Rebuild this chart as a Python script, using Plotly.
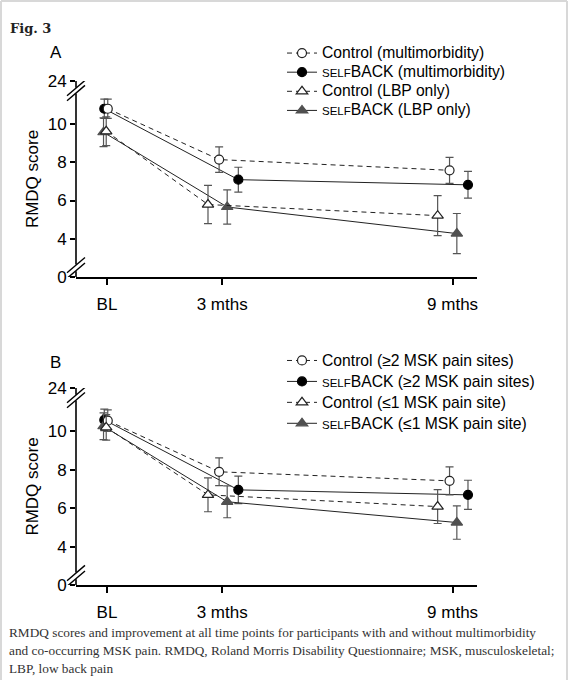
import plotly.graph_objects as go

# time points (months from baseline) and their tick labels
months = [0, 3, 9]
month_labels = ["BL", "3 mths", "9 mths"]

# broken y axis: 0 and 24 sit beyond the breaks
ytick_text = ["0", "4", "6", "8", "10", "24"]

# Panel A: multimorbidity vs LBP only  (mean RMDQ and error half-width)
a_names = ["Control (multimorbidity)", "SELFBACK (multimorbidity)",
           "Control (LBP only)", "SELFBACK (LBP only)"]
a_ctrl_multi = [10.8, 8.14, 7.58]
a_ctrl_multi_err = [0.5, 0.67, 0.68]
a_self_multi = [10.8, 7.09, 6.82]
a_self_multi_err = [0.5, 0.65, 0.70]
a_ctrl_lbp = [9.62, 5.79, 5.21]
a_ctrl_lbp_err = [0.75, 1.0, 1.05]
a_self_lbp = [9.57, 5.66, 4.27]
a_self_lbp_err = [0.75, 0.9, 1.05]

# Panel B: >=2 vs <=1 MSK pain sites
b_names = ["Control (\u22652 MSK pain sites)", "SELFBACK (\u22652 MSK pain sites)",
           "Control (\u22641 MSK pain site)", "SELFBACK (\u22641 MSK pain site)"]
b_ctrl_multi = [10.55, 7.89, 7.42]
b_ctrl_multi_err = [0.56, 0.72, 0.73]
b_self_multi = [10.59, 6.95, 6.69]
b_self_multi_err = [0.56, 0.72, 0.76]
b_ctrl_single = [10.2, 6.69, 6.08]
b_ctrl_single_err = [0.66, 0.88, 0.88]
b_self_single = [10.26, 6.33, 5.25]
b_self_single_err = [0.7, 0.83, 0.87]

caption_lines = [
    "RMDQ scores and improvement at all time points for participants with and without multimorbidity",
    "and co-occurring MSK pain. RMDQ, Roland Morris Disability Questionnaire; MSK, musculoskeletal;",
    "LBP, low back pain",
]

FONT = "Arial, Liberation Sans, sans-serif"

# figure geometry (pixels)
W, H = 582, 680
L, R, T, B = 76, 105, 81, 95
PW, PH = W - L - R, H - T - B


def px(x):
    return (x - L) / PW


def py(y):
    return (H - B - y) / PH


# horizontal dodge (months) per series: ctrl circle, self circle, ctrl tri, self tri
dodge = {
    "ctrl_c": [0.02, -0.08, -0.08],
    "self_c": [-0.07, 0.42, 0.40],
    "ctrl_t": [-0.02, -0.37, -0.39],
    "self_t": [-0.09, 0.13, 0.11],
}

styles = {
    "ctrl_c": dict(symbol="circle", size=9, color="white", line=dict(color="#222", width=1.2)),
    "self_c": dict(symbol="circle", size=9, color="black", line=dict(color="black", width=1.2)),
    "ctrl_t": dict(symbol="triangle-up", size=10, color="white", line=dict(color="#222", width=1.2)),
    "self_t": dict(symbol="triangle-up", size=10, color="#505050", line=dict(color="#505050", width=1.2)),
}
dashes = {"ctrl_c": "5px,4px", "ctrl_t": "5px,4px", "self_c": "solid", "self_t": "solid"}


def label(name):
    name = name.replace("SELFBACK", "<span style='font-size:11.5px'>SELF</span>BACK")
    return "<span style='font-size:15.7px'>" + name + "</span>"


fig = go.Figure()


def add_panel(xa, ya, legend, names, series):
    # filled series first so the open markers sit on top, as in the original
    order = ["self_c", "self_t", "ctrl_c", "ctrl_t"]
    rank = {"ctrl_c": 1, "self_c": 2, "ctrl_t": 3, "self_t": 4}
    for key in order:
        vals, errs = series[key]
        fig.add_trace(go.Scatter(
            x=[m + d for m, d in zip(months, dodge[key])], y=vals,
            xaxis=xa, yaxis=ya, legend=legend, legendrank=rank[key],
            name=label(names[rank[key] - 1]), mode="lines+markers",
            line=dict(color="#222", width=1, dash=dashes[key]),
            marker=styles[key],
            error_y=dict(type="data", array=errs, color="#555", thickness=1.2, width=4),
        ))


add_panel("x", "y", "legend", a_names, {
    "ctrl_c": (a_ctrl_multi, a_ctrl_multi_err),
    "self_c": (a_self_multi, a_self_multi_err),
    "ctrl_t": (a_ctrl_lbp, a_ctrl_lbp_err),
    "self_t": (a_self_lbp, a_self_lbp_err),
})
add_panel("x2", "y2", "legend2", b_names, {
    "ctrl_c": (b_ctrl_multi, b_ctrl_multi_err),
    "self_c": (b_self_multi, b_self_multi_err),
    "ctrl_t": (b_ctrl_single, b_ctrl_single_err),
    "self_t": (b_self_single, b_self_single_err),
})

ytick_pos = [2, 4, 6, 8, 10, 12.25]

xaxis_style = dict(range=[-0.807, 9.635], tickvals=months, ticktext=month_labels,
                   showline=True, linecolor="black", linewidth=1.6, ticks="outside",
                   ticklen=6, tickwidth=1.5, tickcolor="black", showgrid=False,
                   zeroline=False, ticklabelstandoff=5,
                   tickfont=dict(family=FONT, size=17, color="black"))
yaxis_style = dict(range=[2, 12.25], tickvals=ytick_pos, ticktext=ytick_text,
                   showline=False, ticks="outside", ticklen=5, tickwidth=1.5,
                   tickcolor="black", showgrid=False, zeroline=False,
                   tickfont=dict(family=FONT, size=17, color="black"),
                   title=dict(text="RMDQ score", font=dict(family=FONT, size=17, color="black"),
                              standoff=4))

# axis lines with break marks
shapes = []
for xr, yr in [("x domain", "y"), ("x2 domain", "y2")]:
    for y0, y1 in [(2, 2.3), (2.65, 11.6), (11.9, 12.25)]:
        shapes.append(dict(type="line", xref=xr, yref=yr, x0=0, x1=0, y0=y0, y1=y1,
                           line=dict(color="black", width=1.6)))
    for c in [2.33, 2.62, 11.62, 11.88]:
        shapes.append(dict(type="line", xref=xr, yref=yr, x0=-0.0224, x1=0.0224,
                           y0=c - 0.4, y1=c + 0.4, line=dict(color="black", width=1.4)))

# light page frame
frame = "#d8d8d8"
shapes += [
    dict(type="line", xref="paper", yref="paper", x0=px(1), x1=px(567), y0=py(1), y1=py(1),
         line=dict(color=frame, width=2)),
    dict(type="line", xref="paper", yref="paper", x0=px(1), x1=px(1), y0=py(1), y1=py(680),
         line=dict(color=frame, width=2)),
    dict(type="line", xref="paper", yref="paper", x0=px(567), x1=px(567), y0=py(1), y1=py(680),
         line=dict(color=frame, width=2)),
]

annotations = [
    dict(text="<b>Fig. 3</b>", x=px(8), y=py(29), xanchor="left", yanchor="middle",
         font=dict(family="DejaVu Serif, serif", size=13, color="#222")),
    dict(text="A", x=px(55.5), y=py(52.5), xanchor="center", yanchor="middle",
         font=dict(family=FONT, size=17, color="black")),
    dict(text="B", x=px(55), y=py(362.5), xanchor="center", yanchor="middle",
         font=dict(family=FONT, size=17, color="black")),
]
for line, yc in zip(caption_lines, [632, 650, 668]):
    annotations.append(dict(text=line, x=px(7), y=py(yc), xanchor="left", yanchor="middle",
                            font=dict(family="Liberation Serif, serif", size=13.3, color="#333")))
for a in annotations:
    a.update(xref="paper", yref="paper", showarrow=False)

legend_style = dict(bgcolor="rgba(0,0,0,0)", borderwidth=0, tracegroupgap=0,
                    xanchor="left", yanchor="top", itemclick=False)

fig.update_layout(
    width=W, height=H,
    margin=dict(l=L, r=R, t=T, b=B, autoexpand=False),
    paper_bgcolor="white", plot_bgcolor="white",
    font=dict(family=FONT, color="black"),
    xaxis=dict(domain=[0, 1], anchor="y", **xaxis_style),
    yaxis=dict(domain=[py(277), 1], anchor="x", **yaxis_style),
    xaxis2=dict(domain=[0, 1], anchor="y2", **xaxis_style),
    yaxis2=dict(domain=[0, py(388)], anchor="x2", **yaxis_style),
    legend=dict(x=px(282), y=py(38.5), font=dict(family=FONT, size=12.4, color="black"),
                **legend_style),
    legend2=dict(x=px(282), y=py(345), font=dict(family=FONT, size=13.8, color="black"),
                 **legend_style),
    shapes=shapes,
    annotations=annotations,
)

fig.write_html("out.html", config={"displayModeBar": False},
               post_script="document.body.style.margin='0';")
